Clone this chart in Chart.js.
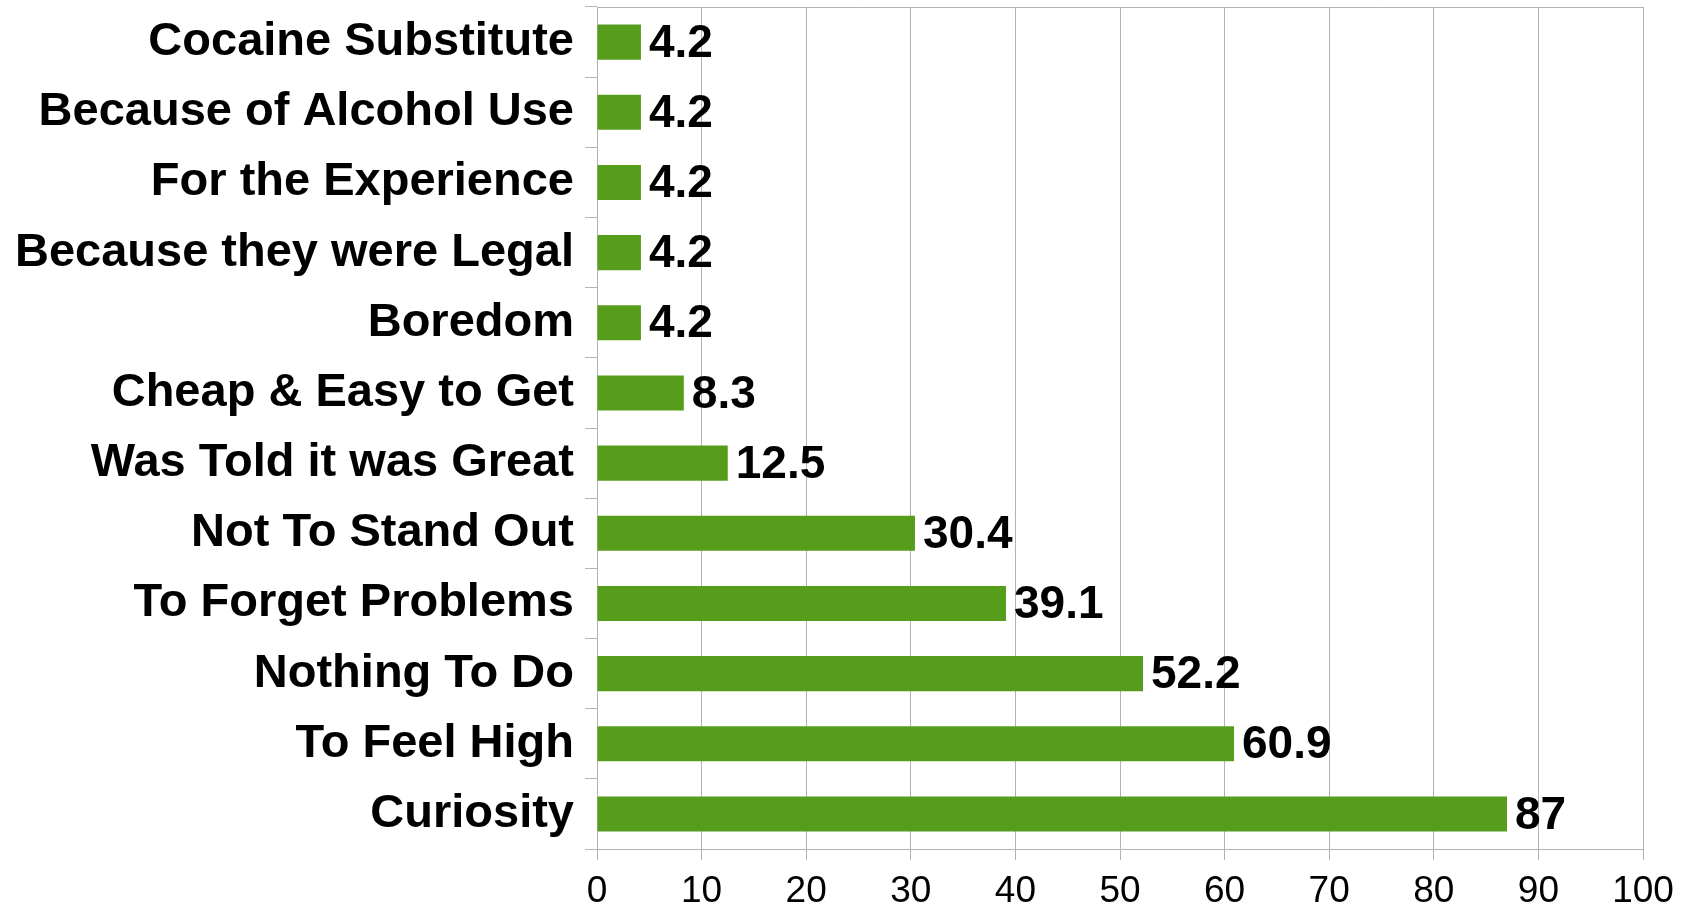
<!DOCTYPE html>
<html>
<head>
<meta charset="utf-8">
<script src="https://cdn.jsdelivr.net/npm/chart.js@4"></script>
<style>
  html, body { margin: 0; padding: 0; background: #fff; }
  #wrap { width: 1690px; height: 906px; }
</style>
</head>
<body>
<div id="wrap"><canvas id="reasonsChart"></canvas></div>
<script>
// reasons, top to bottom as in the picture
var reasons = ["Cocaine Substitute", "Because of Alcohol Use", "For the Experience",
  "Because they were Legal", "Boredom", "Cheap & Easy to Get", "Was Told it was Great",
  "Not To Stand Out", "To Forget Problems", "Nothing To Do", "To Feel High", "Curiosity"];
var percents = [4.2, 4.2, 4.2, 4.2, 4.2, 8.3, 12.5, 30.4, 39.1, 52.2, 60.9, 87];
var xTicks = [0, 10, 20, 30, 40, 50, 60, 70, 80, 90, 100];

var fontName = "'Liberation Sans', Arial, sans-serif";
var gridGray = "#b3b3b3";

// draws value next to each bar + the top frame line
var valueLabels = {
  id: "valueLabels",
  afterDatasetsDraw: function(chart){
    var ctx = chart.ctx;
    var area = chart.chartArea;
    ctx.save();
    ctx.strokeStyle = gridGray;
    ctx.lineWidth = 1;
    ctx.beginPath();
    ctx.moveTo(area.left, area.top + 0.5);
    ctx.lineTo(area.right, area.top + 0.5);
    ctx.stroke();

    ctx.fillStyle = "#000";
    ctx.font = "bold 46px " + fontName;
    ctx.textAlign = "left";
    ctx.textBaseline = "middle";
    chart.getDatasetMeta(0).data.forEach(function(bar, i){
      ctx.fillText(String(percents[i]), bar.x + 8, bar.y + 2);
    });
    ctx.restore();
  }
};

new Chart("reasonsChart", {
  type: "bar",
  data: {
    labels: reasons,
    datasets: [{
      data: percents,
      backgroundColor: "#579d1c",
      barPercentage: 0.5,
      categoryPercentage: 1.0
    }]
  },
  options: {
    indexAxis: "y",
    responsive: true,
    maintainAspectRatio: false,
    animation: false,
    layout: { padding: { top: 7, right: 47, left: 0, bottom: 0 } },
    plugins: { legend: { display: false }, tooltip: { enabled: false } },
    scales: {
      x: {
        min: 0,
        max: 100,
        afterBuildTicks: function(scale){
          scale.ticks = xTicks.map(function(v){ return { value: v }; });
        },
        afterFit: function(scale){ scale.height = 57; },
        grid: { color: gridGray, lineWidth: 1, tickLength: 11 },
        border: { color: gridGray },
        ticks: { color: "#000", font: { family: fontName, size: 37 }, padding: 10, maxRotation: 0 }
      },
      y: {
        afterFit: function(scale){
          scale.width = 597;
          scale.paddingTop = 0;
          scale.paddingBottom = 0;
        },
        grid: { drawOnChartArea: false, color: gridGray, tickLength: 12, offset: true },
        border: { color: gridGray },
        ticks: { color: "#000", font: { family: fontName, size: 47, weight: "bold", lineHeight: 0.1 }, padding: 11 }
      }
    }
  },
  plugins: [valueLabels]
});
</script>
</body>
</html>
